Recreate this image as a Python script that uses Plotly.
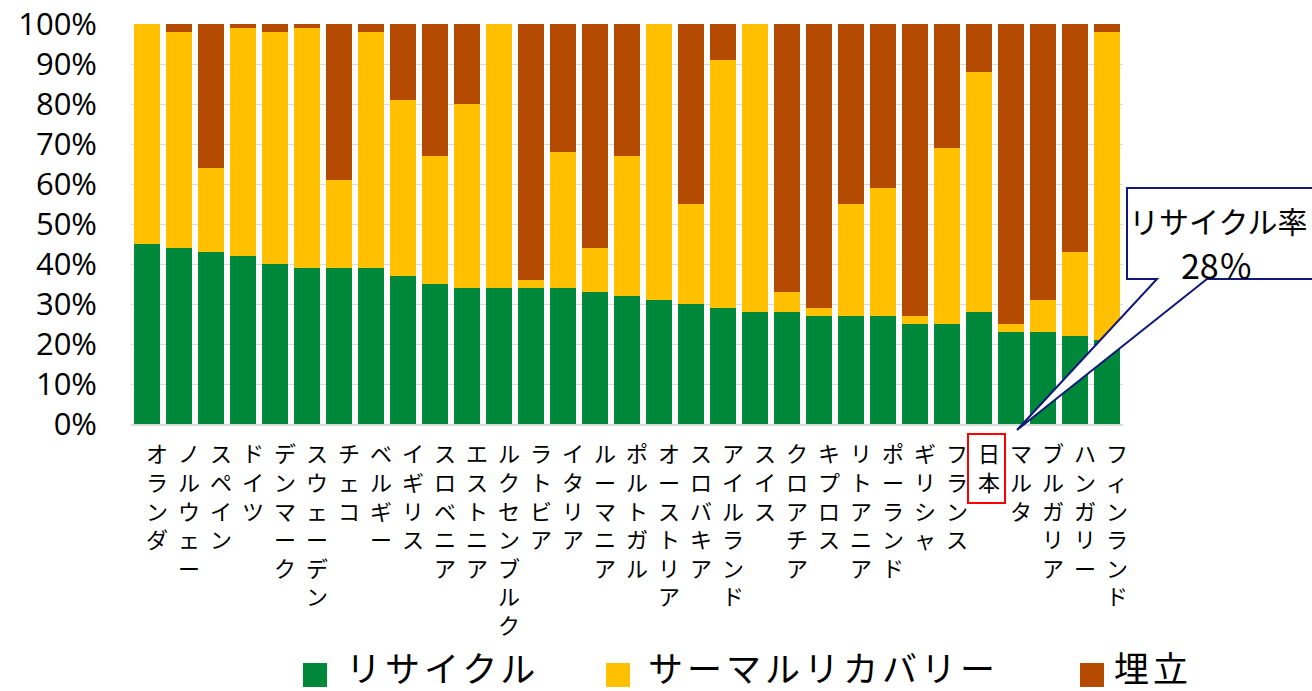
import plotly.graph_objects as go

countries = ["オランダ", "ノルウェー", "スペイン", "ドイツ", "デンマーク", "スウェーデン", "チェコ",
             "ベルギー", "イギリス", "スロベニア", "エストニア", "ルクセンブルク", "ラトビア", "イタリア",
             "ルーマニア", "ポルトガル", "オーストリア", "スロバキア", "アイルランド", "スイス", "クロアチア",
             "キプロス", "リトアニア", "ポーランド", "ギリシャ", "フランス", "日本", "マルタ",
             "ブルガリア", "ハンガリー", "フィンランド"]
recycle = [45, 44, 43, 42, 40, 39, 39, 39, 37, 35, 34, 34, 34, 34, 33, 32, 31, 30, 29, 28, 28,
           27, 27, 27, 25, 25, 28, 23, 23, 22, 21]
thermal = [55, 54, 21, 57, 58, 60, 22, 59, 44, 32, 46, 66, 2, 34, 11, 35, 69, 25, 62, 72, 5,
           2, 28, 32, 2, 44, 60, 2, 8, 21, 77]
landfill = [0, 2, 36, 1, 2, 1, 39, 2, 19, 33, 20, 0, 64, 32, 56, 33, 0, 45, 9, 0, 67,
            71, 45, 41, 73, 31, 12, 75, 69, 57, 2]
series_names = ["リサイクル", "サーマルリカバリー", "埋立"]
colors = ["#00883A", "#FFC000", "#B44B00"]
y_ticks = [0, 10, 20, 30, 40, 50, 60, 70, 80, 90, 100]
y_tick_labels = ["0%", "10%", "20%", "30%", "40%", "50%", "60%", "70%", "80%", "90%", "100%"]

FONT = "Noto Sans CJK JP"

tick_text = ["<br>".join(list(c)) for c in countries]

fig = go.Figure()
for name, vals, col in zip(series_names, [recycle, thermal, landfill], colors):
    fig.add_trace(go.Bar(x=list(range(len(countries))), y=vals, name=name,
                         marker=dict(color=col, line=dict(width=0)), showlegend=False))

# plot area in pixels: x 131..1123, y 24..424
L, R, T, B = 131, 1123, 24, 424
W, H = R - L, B - T
def px(x):
    return (x - L) / W
def py(y):
    return (B - y) / H

shapes = []
# callout box
path = "M {} {} L {} {} L {} {} L {} {} L {} {} L {} {} L {} {} Z".format(
    px(1127), py(188), px(1340), py(188), px(1340), py(279), px(1207), py(279),
    px(1017), py(430), px(1157), py(279), px(1127), py(279))
shapes.append(dict(type="path", xref="paper", yref="paper", path=path,
                   fillcolor="white", line=dict(color="#10187A", width=2), layer="above"))
# red box around Japan label
shapes.append(dict(type="rect", xref="paper", yref="paper",
                   x0=px(968), x1=px(1005), y0=py(434), y1=py(503),
                   line=dict(color="#FF0000", width=2), fillcolor="rgba(0,0,0,0)"))

annotations = [
    dict(xref="paper", yref="paper", x=px(1218), y=py(220), text="リサイクル率",
         showarrow=False, font=dict(family=FONT, size=30, color="black"),
         xanchor="center", yanchor="middle"),
    dict(xref="paper", yref="paper", x=px(1217), y=py(264), text="28％",
         showarrow=False, font=dict(family=FONT, size=34, color="black"),
         xanchor="center", yanchor="middle"),
]

# legend (manual, large squares)
leg_sq = [(303, 327), (606, 630), (1080, 1104)]
leg_tx = [344, 646, 1112]
for (a, b), tx, name, col in zip(leg_sq, leg_tx, series_names, colors):
    shapes.append(dict(type="rect", xref="paper", yref="paper",
                       x0=px(a), x1=px(b), y0=py(663), y1=py(687),
                       fillcolor=col, line=dict(width=0)))
    annotations.append(dict(xref="paper", yref="paper", x=px(tx), y=py(666),
                            text='<span style="letter-spacing:4px">' + name + '</span>',
                            showarrow=False, xanchor="left", yanchor="middle",
                            font=dict(family=FONT, size=35, color="black")))

fig.update_layout(
    width=1312, height=691,
    margin=dict(l=L, r=1312 - R, t=T, b=691 - B, autoexpand=False),
    barmode="stack", bargap=0.16,
    plot_bgcolor="white", paper_bgcolor="white",
    font=dict(family=FONT, color="black"),
    shapes=shapes, annotations=annotations,
    showlegend=False,
)
fig.update_xaxes(
    tickmode="array", tickvals=list(range(len(countries))), ticktext=tick_text,
    tickangle=0, tickfont=dict(family=FONT, size=22, color="black"),
    range=[-0.5, len(countries) - 0.5],
    showline=True, linecolor="#D9D9D9", linewidth=2, showgrid=False,
    ticks="", ticklabelshift=10, ticklabelstandoff=10, automargin=False,
)
fig.update_yaxes(
    range=[0, 100], tickmode="array", tickvals=y_ticks, ticktext=y_tick_labels,
    tickfont=dict(family="Open Sans", size=31, color="black"),
    showgrid=True, gridcolor="#D9D9D9", gridwidth=1, zeroline=False,
    ticks="", ticklabelstandoff=33, showline=False, automargin=False,
)

fig.write_html("out.html", config={"displayModeBar": False},
               post_script="document.body.style.margin='0';document.body.style.overflow='hidden';")
